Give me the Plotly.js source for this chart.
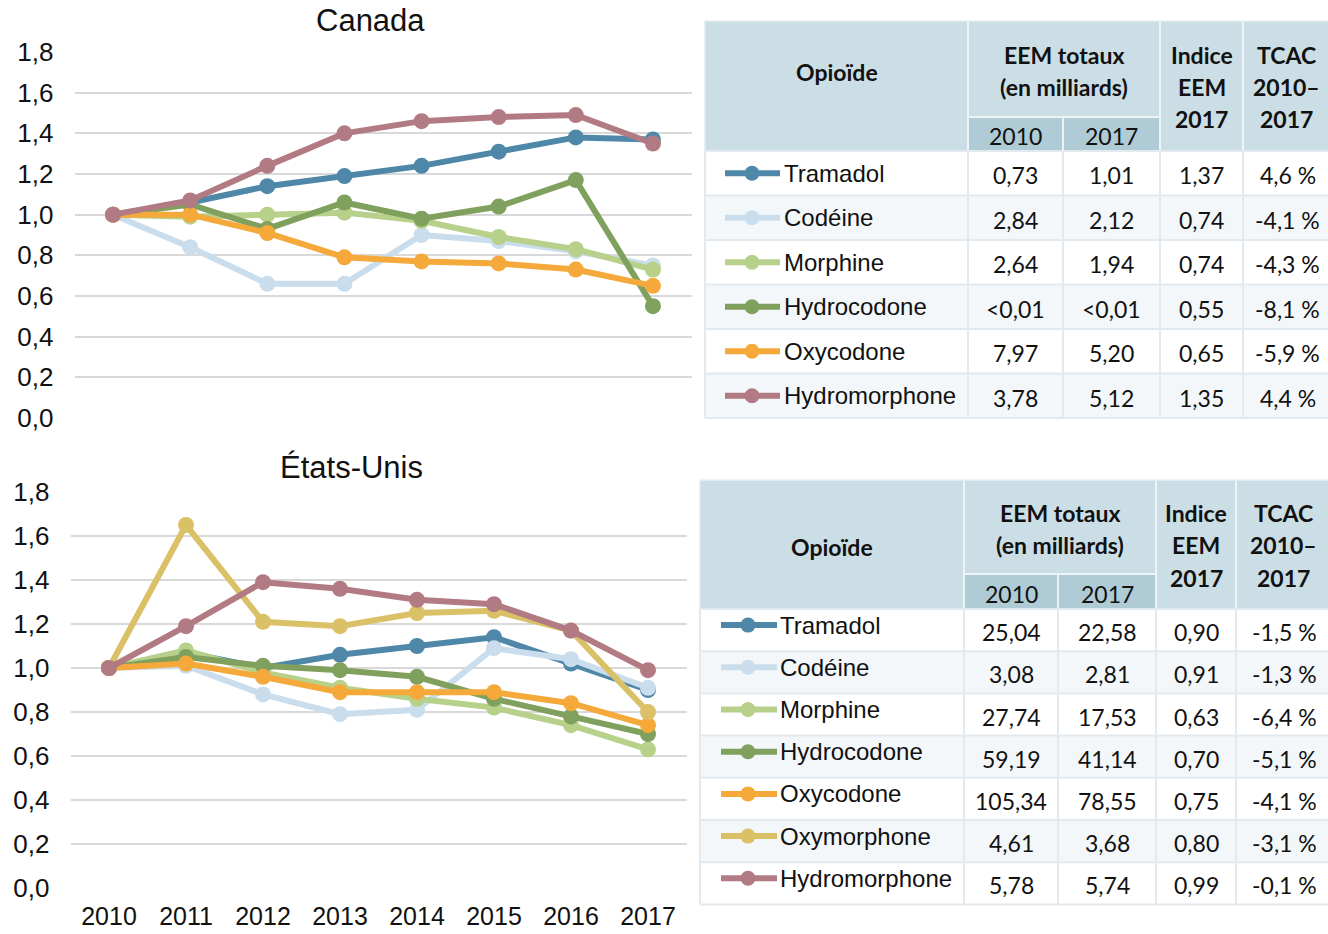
<!DOCTYPE html>
<html>
<head>
<meta charset="utf-8">
<script src="https://cdn.plot.ly/plotly-3.0.1.min.js"></script>
<style>html,body{margin:0;padding:0;background:#fff;}#chart{width:1328px;height:934px;}</style>
</head>
<body>
<div id="chart"></div>
<script>
// ---------- DATA ----------
const years = ['2010','2011','2012','2013','2014','2015','2016','2017'];

// Canada (indice EEM, 2010 = 1)
const caTramadol      = [1.00, 1.06, 1.14, 1.19, 1.24, 1.31, 1.38, 1.37];
const caCodeine       = [1.00, 0.84, 0.66, 0.66, 0.90, 0.87, 0.82, 0.75];
const caMorphine      = [1.00, 0.99, 1.00, 1.01, 0.97, 0.89, 0.83, 0.73];
const caHydrocodone   = [1.00, 1.05, 0.93, 1.06, 0.98, 1.04, 1.17, 0.55];
const caOxycodone     = [1.00, 1.00, 0.91, 0.79, 0.77, 0.76, 0.73, 0.65];
const caHydromorphone = [1.00, 1.07, 1.24, 1.40, 1.46, 1.48, 1.49, 1.35];

// États-Unis
const usTramadol      = [1.00, 1.07, 1.00, 1.06, 1.10, 1.14, 1.02, 0.90];
const usCodeine       = [1.00, 1.01, 0.88, 0.79, 0.81, 1.09, 1.04, 0.91];
const usMorphine      = [1.00, 1.08, 0.98, 0.91, 0.86, 0.82, 0.74, 0.63];
const usHydrocodone   = [1.00, 1.05, 1.01, 0.99, 0.96, 0.86, 0.78, 0.70];
const usOxycodone     = [1.00, 1.02, 0.96, 0.89, 0.89, 0.89, 0.84, 0.74];
const usOxymorphone   = [1.00, 1.65, 1.21, 1.19, 1.25, 1.26, 1.17, 0.80];
const usHydromorphone = [1.00, 1.19, 1.39, 1.36, 1.31, 1.29, 1.17, 0.99];

const yTicks = [0, 0.2, 0.4, 0.6, 0.8, 1.0, 1.2, 1.4, 1.6, 1.8];

// Tables
const caNames   = ['Tramadol','Codéine','Morphine','Hydrocodone','Oxycodone','Hydromorphone'];
const ca2010    = ['0,73','2,84','2,64','<0,01','7,97','3,78'];
const ca2017    = ['1,01','2,12','1,94','<0,01','5,20','5,12'];
const caIndice  = ['1,37','0,74','0,74','0,55','0,65','1,35'];
const caTcac    = ['4,6 %','-4,1 %','-4,3 %','-8,1 %','-5,9 %','4,4 %'];

const usNames   = ['Tramadol','Codéine','Morphine','Hydrocodone','Oxycodone','Oxymorphone','Hydromorphone'];
const us2010    = ['25,04','3,08','27,74','59,19','105,34','4,61','5,78'];
const us2017    = ['22,58','2,81','17,53','41,14','78,55','3,68','5,74'];
const usIndice  = ['0,90','0,91','0,63','0,70','0,75','0,80','0,99'];
const usTcac    = ['-1,5 %','-1,3 %','-6,4 %','-5,1 %','-4,1 %','-3,1 %','-0,1 %'];

const headOpioide = 'Opioïde';
const headEEM = ['EEM totaux','(en milliards)'];
const headIndice = ['Indice','EEM','2017'];
const headTcac = ['TCAC','2010–','2017'];
const headYears = ['2010','2017'];

// ---------- STYLE ----------
const colors = {
  'Tramadol':'#4F87A8', 'Codéine':'#CADDEC', 'Morphine':'#B7D08A',
  'Hydrocodone':'#80A05E', 'Oxycodone':'#F4A93A', 'Oxymorphone':'#DAC066',
  'Hydromorphone':'#B27B84'
};
const W = 1328, H = 934;
const PX = x => x / W, PY = y => 1 - y / H;
const chartFont = 'Liberation Sans, Arial, sans-serif';
const tableFont = 'Lato, Carlito, Calibri, sans-serif';

const caSeries = [caTramadol, caCodeine, caMorphine, caHydrocodone, caOxycodone, caHydromorphone];
const usSeries = [usTramadol, usCodeine, usMorphine, usHydrocodone, usOxycodone, usOxymorphone, usHydromorphone];

const traces = [];
caNames.forEach((n, i) => traces.push({
  type:'scatter', mode:'lines+markers', x: years, y: caSeries[i], name: n,
  xaxis:'x', yaxis:'y', showlegend:false, cliponaxis:false,
  line:{color: colors[n], width:6}, marker:{color: colors[n], size:16}
}));
usNames.forEach((n, i) => traces.push({
  type:'scatter', mode:'lines+markers', x: years, y: usSeries[i], name: n,
  xaxis:'x2', yaxis:'y2', showlegend:false, cliponaxis:false,
  line:{color: colors[n], width:6}, marker:{color: colors[n], size:16}
}));

const shapes = [], annotations = [];

function txt(text, x, y, font, opts) {
  annotations.push(Object.assign({
    text: text, x: PX(x), y: PY(y), xref:'paper', yref:'paper',
    xanchor:'center', yanchor:'middle', showarrow:false, font: font
  }, opts || {}));
}
function rect(x0, y0, x1, y1, fill, lineColor, lw) {
  shapes.push({type:'rect', xref:'paper', yref:'paper', x0:PX(x0), x1:PX(x1), y0:PY(y1), y1:PY(y0),
    fillcolor: fill, line:{color: lineColor || 'rgba(0,0,0,0)', width: lw || 0}, layer:'above'});
}
function line(x0, y0, x1, y1, color, lw) {
  shapes.push({type:'line', xref:'paper', yref:'paper', x0:PX(x0), x1:PX(x1), y0:PY(y0), y1:PY(y1),
    line:{color: color, width: lw}, layer:'above'});
}
function circle(cx, cy, r, color) {
  shapes.push({type:'circle', xref:'paper', yref:'paper', x0:PX(cx-r), x1:PX(cx+r), y0:PY(cy+r), y1:PY(cy-r),
    fillcolor: color, line:{width:0}, layer:'above'});
}

function buildTable(t) {
  const c = t.cols;
  const nRows = t.names.length;
  const bodyBottom = t.bodyTop + nRows * t.rowH;
  const headFont = {family: tableFont, size: 23, color:'#111', weight: 700};
  const numFont = {family: tableFont, size: 23, color:'#111'};
  const lblFont = {family: chartFont, size: 24, color:'#111'};
  rect(c[0], t.top, c[5], t.bodyTop, '#CCDEE5');
  rect(c[1], t.subTop, c[3], t.bodyTop, '#AECBD6');
  [c[1], c[3], c[4]].forEach(x => line(x, t.top, x, t.bodyTop, '#EEF4F6', 2));
  line(c[2], t.subTop, c[2], t.bodyTop, '#EEF4F6', 2);
  line(c[1], t.subTop, c[3], t.subTop, '#EEF4F6', 2);
  for (let r = 0; r < nRows; r++) {
    const y0 = t.bodyTop + r * t.rowH;
    rect(c[0], y0, c[5], y0 + t.rowH, r % 2 === 0 ? '#FFFFFF' : '#F3F7F9');
  }
  for (let r = 0; r <= nRows; r++) {
    const y = t.bodyTop + r * t.rowH;
    line(c[0], y, c[5], y, '#E2EAEF', 2);
  }
  c.slice(0, 5).forEach(x => line(x, t.bodyTop, x, bodyBottom, '#E2EAEF', 2));
  line(c[0], t.top, c[0], t.bodyTop, '#E2EAEF', 1.5);
  line(c[0], t.top, c[5], t.top, '#E9EFF2', 1.5);

  const mid = (a, b) => (a + b) / 2;
  txt('<b>' + headOpioide + '</b>', mid(c[0], c[1]), t.hOpY, headFont);
  headEEM.forEach((s, k) => txt('<b>' + s + '</b>', mid(c[1], c[3]), t.hLines[k], headFont));
  headIndice.forEach((s, k) => txt('<b>' + s + '</b>', mid(c[3], c[4]), t.hLines[k], headFont));
  headTcac.forEach((s, k) => txt('<b>' + s + '</b>', mid(c[4], c[5]), t.hLines[k], headFont));
  txt(headYears[0], mid(c[1], c[2]), t.subY, numFont);
  txt(headYears[1], mid(c[2], c[3]), t.subY, numFont);

  for (let r = 0; r < nRows; r++) {
    const cy = t.bodyTop + (r + 0.5) * t.rowH;
    const n = t.names[r];
    const gy = cy + t.lblDy;
    line(t.g0, gy, t.g1, gy, colors[n], 6);
    circle(t.gc, gy, 7.5, colors[n]);
    txt(n, t.textX, gy, lblFont, {xanchor:'left'});
    txt(t.v2010[r], mid(c[1], c[2]), cy + t.numDy, numFont);
    txt(t.v2017[r], mid(c[2], c[3]), cy + t.numDy, numFont);
    txt(t.idx[r], mid(c[3], c[4]), cy + t.numDy, numFont);
    txt(t.tcac[r], mid(c[4], c[5]) + 1, cy + t.numDy, numFont);
  }
}

buildTable({
  cols:[705, 968, 1063, 1160, 1243, 1330], top:21, subTop:117, bodyTop:151, rowH:44.5,
  hOpY:72, hLines:[55, 87, 119], subY:136,
  names: caNames, v2010: ca2010, v2017: ca2017, idx: caIndice, tcac: caTcac,
  g0:725, g1:780, gc:752, textX:782, lblDy:0, numDy:2
});
buildTable({
  cols:[700, 964, 1058, 1156, 1236, 1330], top:480, subTop:574, bodyTop:609, rowH:42.2,
  hOpY:547, hLines:[513, 545, 578], subY:594,
  names: usNames, v2010: us2010, v2017: us2017, idx: usIndice, tcac: usTcac,
  g0:721, g1:777, gc:748, textX:778, lblDy:-5, numDy:2
});

txt('Canada', 370, 20, {family: chartFont, size: 31, color:'#111'});
txt('États-Unis', 351, 467, {family: chartFont, size: 31, color:'#111'});

const yBase = {
  range:[-0.0001, 1.8001], tickvals: yTicks, tickformat:'.1f', showgrid:true,
  gridcolor:'#D9D9D9', gridwidth:2, zeroline:false, showline:false, ticks:'',
  ticklabelstandoff: 20, tickfont:{family: chartFont, size: 26, color:'#111'}, fixedrange:true
};
const layout = {
  width: W, height: H, margin:{l:0, r:0, t:0, b:0}, paper_bgcolor:'#fff', plot_bgcolor:'rgba(0,0,0,0)',
  separators:', ', showlegend:false,
  xaxis:{domain:[PX(74.5), PX(691.5)], type:'category', range:[-0.5, 7.5], anchor:'y',
         showticklabels:false, showgrid:false, zeroline:false, showline:false, ticks:''},
  yaxis:Object.assign({domain:[PY(418), PY(52)], anchor:'x'}, yBase),
  xaxis2:{domain:[PX(70.5), PX(686.5)], type:'category', range:[-0.5, 7.5], anchor:'y2',
          showgrid:false, zeroline:false, showline:false, ticks:'', ticklabelstandoff: 11,
          tickfont:{family: chartFont, size: 25, color:'#111'}},
  yaxis2:Object.assign({domain:[PY(888), PY(492)], anchor:'x2'}, yBase),
  shapes: shapes, annotations: annotations
};
Plotly.newPlot('chart', traces, layout, {displayModeBar:false, staticPlot:true});
</script>
</body>
</html>
